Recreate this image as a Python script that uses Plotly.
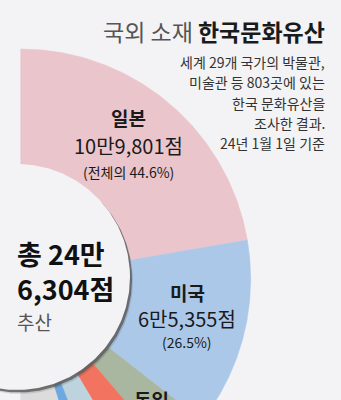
import numpy as np
import plotly.graph_objects as go

# ---- data ----
countries = ["일본", "미국", "독일", "국가4", "국가5", "국가6", "기타"]
counts = [109801, 65355, 15693, 13500, 13000, 5400, 23555]
colors = ["#ebc5cc", "#abc8e9", "#a9b7a1", "#f2735f", "#bdd4df", "#6ea8e0", "#dcdcdc"]
total_label = ["총 24만", "6,304점", "추산"]
title_light = "국외 소재"
title_bold = "한국문화유산"
subtitle_lines = ["세계 29개 국가의 박물관,", "미술관 등 803곳에 있는", "한국 문화유산을",
                  "조사한 결과.", "24년 1월 1일 기준"]
labels_amount = ["10만9,801점", "6만5,355점"]
labels_pct = ["(전체의 44.6%)", "(26.5%)"]

W, H = 341, 400
BG = "#f3f3f5"
FONT = "Noto Sans CJK KR"
cx, cy = 20.7, 279.0
R_out, R_in = 230.0, 100.0
hole_r = 113.0
hole_c = (17.0, 277.0)

fig = go.Figure()

total = float(sum(counts))
cum = 0.0
for name, v, col in zip(countries, counts, colors):
    a0 = np.pi * cum / total
    cum += v
    a1 = np.pi * cum / total
    t = np.linspace(a0, a1, 120)
    xo = cx + R_out * np.sin(t)
    yo = cy - R_out * np.cos(t)
    xi = cx + R_in * np.sin(t[::-1])
    yi = cy - R_in * np.cos(t[::-1])
    fig.add_trace(go.Scatter(x=np.r_[xo, xi, xo[0]], y=np.r_[yo, yi, yo[0]],
                             fill="toself", fillcolor=col, mode="lines",
                             line=dict(width=0.5, color=col), hoverinfo="skip",
                             name=name, showlegend=False))

# inner circle with shadow
tt = np.linspace(0, 2 * np.pi, 360)
for dx, dy, c in [(3.0, 4.0, "rgba(0,0,0,0.12)"), (2.0, 2.5, "rgba(95,95,95,0.85)")]:
    fig.add_trace(go.Scatter(x=hole_c[0] + dx + hole_r * np.cos(tt),
                             y=hole_c[1] + dy + hole_r * np.sin(tt),
                             fill="toself", fillcolor=c, mode="lines",
                             line=dict(width=0, color=c), hoverinfo="skip", showlegend=False))
fig.add_trace(go.Scatter(x=hole_c[0] + hole_r * np.cos(tt), y=hole_c[1] + hole_r * np.sin(tt),
                         fill="toself", fillcolor=BG, mode="lines",
                         line=dict(width=0, color=BG), hoverinfo="skip", showlegend=False))

ann = []
def A(x, y, text, size, color="#1a1a1a", xanchor="center", bold=False, yanchor="middle",
      align="center"):
    if bold:
        text = "<b>" + text + "</b>"
    ann.append(dict(x=x, y=y, xref="x", yref="y", text=text, showarrow=False,
                    xanchor=xanchor, yanchor=yanchor, align=align, borderpad=0,
                    font=dict(family=FONT, size=size, color=color)))

# title
A(326, 31, "<span style='color:#555555'>" + title_light + "</span> <b>" + title_bold + "</b>",
  23, xanchor="right")
for i, line in enumerate(subtitle_lines):
    A(326, 62 + i * 20.3, line, 14, color="#333333", xanchor="right")

# slice labels
A(128, 117, countries[0], 19, bold=True)
A(128, 145, labels_amount[0], 20)
A(128, 172, labels_pct[0], 14)
A(187, 292, countries[1], 19, bold=True)
A(187, 318, labels_amount[1], 20)
A(187, 342, labels_pct[1], 14)
A(151, 399.5, countries[2], 19, bold=True)

# centre total
centre = "<b>" + total_label[0] + "</b><br><b>" + total_label[1] + "</b>"
A(16, 270.5, centre, 27, color="#111111", xanchor="left", align="left")
A(16, 321, total_label[2], 19, color="#555555", xanchor="left")

fig.update_layout(
    width=W, height=H, margin=dict(l=0, r=0, t=0, b=0),
    paper_bgcolor=BG, plot_bgcolor=BG, annotations=ann,
    xaxis=dict(range=[0, W], visible=False, fixedrange=True),
    yaxis=dict(range=[H, 0], visible=False, fixedrange=True),
    showlegend=False,
)
fig.write_html("out.html", config={"displayModeBar": False})
